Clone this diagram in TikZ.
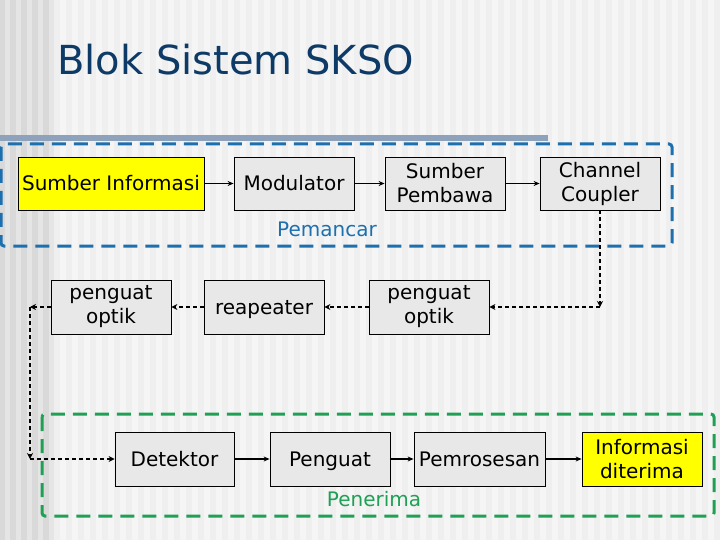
\documentclass[tikz,border=0pt]{standalone}
\usepackage{fontspec}
\setmainfont{DejaVu Sans}
\usetikzlibrary{arrows.meta}
\definecolor{bgA}{HTML}{EFEFEF}
\definecolor{bgB}{HTML}{F5F5F5}
\definecolor{edgeA}{HTML}{D9D9D9}
\definecolor{edgeB}{HTML}{E5E5E5}
\definecolor{titlecol}{HTML}{0D3A66}
\definecolor{barcol}{HTML}{8EA3BB}
\definecolor{bluebox}{HTML}{1E6FAE}
\definecolor{greenbox}{HTML}{1FA055}
\definecolor{boxfill}{HTML}{E8E8E8}
\definecolor{yel}{HTML}{FFFF00}
\tikzset{
  blk/.style={draw=black, line width=0.8pt, fill=boxfill, minimum height=53pt, minimum width=120pt, inner sep=1pt, align=center, font=\fontsize{20}{24}\selectfont},
  yblk/.style={blk, fill=yel},
  oneline/.style={text height=14.5pt, text depth=0pt},
  solidarrow/.style={line width=1.3pt, -{Stealth[length=6pt,width=5pt]}},
  dotarrow/.style={line width=1.8pt, dash pattern=on 4pt off 3pt, -{Stealth[length=6pt,width=6pt]}},
  grpbox/.style={line width=3pt, dash pattern=on 14pt off 8pt, rounded corners=3pt},
}
\begin{document}
\begin{tikzpicture}[x=1pt,y=-1pt]
\useasboundingbox (0,0) rectangle (720,540);
% background
\fill[bgA] (0,0) rectangle (720,540);
\foreach \i in {0,...,59} { \fill[bgB] ({12*\i},0) rectangle ({12*\i+6},540); }
\fill[edgeA] (0,0) rectangle (53,540);
\foreach \i in {0,...,4} { \fill[edgeB] ({11*\i+5},0) rectangle ({11*\i+10},540); }
% title
\node[anchor=base west, inner sep=0pt, text=titlecol, font=\fontsize{40}{46}\selectfont] (title) at (57,75) {Blok Sistem SKSO};
\fill[barcol] (0,135) rectangle (548,141);
% group boxes
\draw[grpbox, bluebox] (1,144) rectangle (672,246);
\draw[grpbox, greenbox] (42,414) rectangle (714,516);
% top row
\node[yblk, oneline, minimum width=186pt] (si) at (111,183.5) {Sumber Informasi};
\node[blk, oneline] (mod) at (294,183.5) {Modulator};
\node[blk] (sp) at (445,183.5) {Sumber\\Pembawa};
\node[blk] (cc) at (600,183.5) {Channel\\Coupler};
\node[oneline, text=bluebox, font=\fontsize{20}{24}\selectfont] (pemancar) at (327,229) {Pemancar};
% middle row
\node[blk, minimum height=54pt] (po1) at (111,307) {penguat\\optik};
\node[blk, oneline, minimum height=54pt] (rep) at (264,307) {reapeater};
\node[blk, minimum height=54pt] (po2) at (429,307) {penguat\\optik};
% bottom row
\node[blk, oneline, minimum height=54pt, minimum width=119pt] (det) at (174.5,459) {Detektor};
\node[blk, oneline, minimum height=54pt] (peng) at (330,459) {Penguat};
\node[blk, oneline, minimum height=54pt, minimum width=131pt] (proc) at (479.5,459) {Pemrosesan};
\node[yblk, minimum height=54pt] (info) at (642,459) {Informasi\\diterima};
\node[oneline, text=greenbox, font=\fontsize{20}{24}\selectfont] (penerima) at (374,499) {Penerima};
% solid arrows
\draw[solidarrow] (si) -- (mod);
\draw[solidarrow] (mod) -- (sp);
\draw[solidarrow] (sp) -- (cc);
\draw[solidarrow] (det) -- (peng);
\draw[solidarrow] (peng) -- (proc);
\draw[solidarrow] (proc) -- (info);
% dotted path
\coordinate (c1) at (cc.south |- po2.east);
\coordinate (c2) at (30,307);
\coordinate (c3) at (30,459);
\draw[dotarrow] (cc.south) -- (c1);
\draw[dotarrow] (c1) -- (po2.east);
\draw[dotarrow] (po2.west) -- (rep.east);
\draw[dotarrow] (rep.west) -- (po1.east);
\draw[dotarrow] (po1.west) -- (c2);
\draw[dotarrow] (c2) -- (c3);
\draw[dotarrow] (c3) -- (det.west);
\end{tikzpicture}
\end{document}
